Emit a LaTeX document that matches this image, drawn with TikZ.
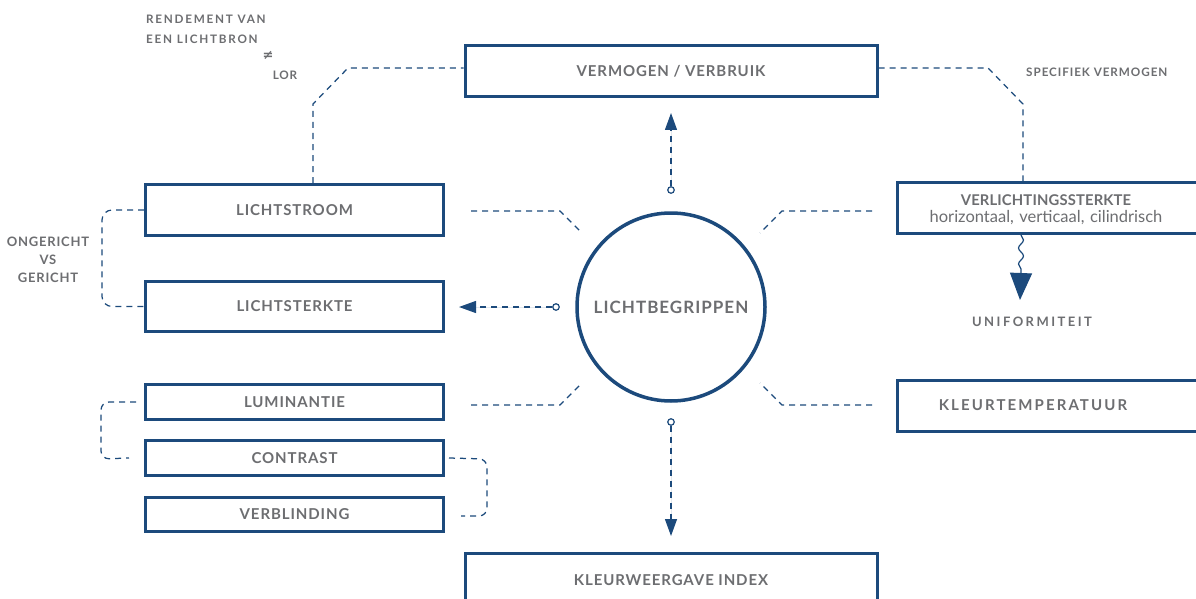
\documentclass[tikz,border=0pt]{standalone}
\usepackage{fontspec}
\setmainfont{Lato}
\newfontfamily\capsfont[LetterSpace=6]{Lato Bold}
\newfontfamily\lblfont[LetterSpace=6]{Lato Bold}
\newfontfamily\subfont{Lato}
\newfontfamily\symfont{DejaVu Sans}
\usetikzlibrary{arrows.meta,decorations.pathmorphing}
\definecolor{cblue}{RGB}{28,74,124}
\definecolor{cgrey}{RGB}{109,110,113}
\begin{document}
\begin{tikzpicture}[x=1pt,y=-1pt,
  box/.style={draw=cblue, line width=3pt, inner sep=0pt, text=cgrey,
    font=\capsfont\fontsize{15}{17}\selectfont},
  lbl/.style={inner sep=0pt, text=cgrey, font=\lblfont\fontsize{11.7}{20}\selectfont},
  lblb/.style={inner sep=0pt, text=cgrey, font=\lblfont\fontsize{13}{18}\selectfont},
  dsh/.style={draw=cblue, line width=1.25pt, dash pattern=on 6pt off 5pt},
  knob/.style={circle, draw=cblue, fill=white, line width=1.2pt, inner sep=0pt, minimum size=6.5pt},
  tipsmall/.style={-{Triangle[length=17pt,width=12pt]}},
  tipbig/.style={-{Triangle[length=27pt,width=22pt]}}
]
\fill[white] (0,0) rectangle (1196,599);
\clip (0,0) rectangle (1196,599);

% boxes
\node[box, minimum width=412pt, minimum height=51pt] (verm) at (671,71) {VERMOGEN / VERBRUIK};
\node[box, minimum width=298pt, minimum height=51pt] (lstroom) at (294.5,210) {LICHTSTROOM};
\node[box, minimum width=298pt, minimum height=50pt] (lsterkte) at (294.5,306.5) {LICHTSTERKTE};
\node[box, minimum width=298pt, minimum height=35pt] (lumin) at (294.5,402) {LUMINANTIE};
\node[box, minimum width=298pt, minimum height=35pt] (contrast) at (294.5,458) {CONTRAST};
\node[box, minimum width=298pt, minimum height=34pt] (verbl) at (294.5,514) {VERBLINDING};
\node[box, text width=303pt, align=center, minimum height=51pt,
  font=\subfont\fontsize{16.5}{16.5}\selectfont] (verlicht) at (1048.5,208)
  {\hspace*{-5pt}{\capsfont\addfontfeature{LetterSpace=1}\fontsize{14.8}{16.5}\selectfont\rule{0pt}{14pt}VERLICHTINGSSTERKTE}\\
   \hspace*{-5pt}horizontaal, verticaal, cilindrisch};
\node[box, minimum width=303pt, minimum height=51pt] (ktemp) at (1048.5,405.5)
  {\hspace*{-31pt}\addfontfeature{LetterSpace=14}KLEURTEMPERATUUR};
\node[box, minimum width=412pt, minimum height=54pt] (kwi) at (671,580) {KLEURWEERGAVE INDEX};

% central circle
\node[circle, draw=cblue, line width=3.5pt, minimum size=188pt, inner sep=0pt, text=cgrey,
  font=\capsfont\fontsize{17}{19}\selectfont] (core) at (671,307) {LICHTBEGRIPPEN};

% knobs and arrows
\node[knob] (ku) at (671,190) {};
\node[knob] (kl) at (556,307) {};
\node[knob] (kd) at (671,422) {};
\coordinate (au) at (671,113);
\coordinate (al) at (459,307);
\coordinate (ad) at (671,536);
\draw[dsh, tipsmall, fill=cblue] (ku) -- (au);
\draw[dsh, tipsmall, fill=cblue] (kl) -- (al);
\draw[dsh, tipsmall, fill=cblue] (kd) -- (ad);

% top connectors
\coordinate (tl1) at (313,104);
\coordinate (tl2) at (348,68);
\draw[dsh] (tl1 |- lstroom.north) -- (tl1) -- (tl2) -- (tl2 -| verm.west);
\coordinate (tr1) at (988,68);
\coordinate (tr2) at (1023,104);
\draw[dsh] (tr1 -| verm.east) -- (tr1) -- (tr2) -- (tr2 |- verlicht.north);

% brackets
\coordinate (og) at (102,0);
\draw[dsh, rounded corners=10pt] (lstroom.west) -- (og |- lstroom.west) -- (og |- lsterkte.west) -- (lsterkte.west);
\coordinate (lb1) at (101,401);
\coordinate (lb2) at (101,459);
\draw[dsh, rounded corners=8pt] ([xshift=-8pt]lumin.west) -- (lb1 |- lumin.west) -- (lb2) -- ([xshift=-15pt]contrast.west);
\coordinate (rb1) at (487,459);
\coordinate (rb2) at (487,516);
\draw[dsh, rounded corners=8pt] ([xshift=4pt]contrast.east) -- (rb1) -- (rb2) -- ([xshift=16pt]verbl.east |- rb2);

% spokes
\coordinate (s1a) at (471,211); \coordinate (s1b) at (560,211); \coordinate (s1c) at (582,233);
\coordinate (s2a) at (471,405); \coordinate (s2b) at (560,405); \coordinate (s2c) at (582,383);
\coordinate (s3a) at (872,211); \coordinate (s3b) at (782,211); \coordinate (s3c) at (760,233);
\coordinate (s4a) at (872,405); \coordinate (s4b) at (782,405); \coordinate (s4c) at (760,383);
\draw[dsh] (s1a) -- (s1b) -- (s1c);
\draw[dsh] (s2a) -- (s2b) -- (s2c);
\draw[dsh] (s3a) -- (s3b) -- (s3c);
\draw[dsh] (s4a) -- (s4b) -- (s4c);

% wavy arrow to uniformiteit
\coordinate (wv) at (1021,273);
\coordinate (wt) at (1020,300);
\draw[cblue, line width=1.2pt, decorate, decoration={snake, amplitude=2.5pt, segment length=16pt}] (wv |- verlicht.south) -- (wv);
\draw[cblue, line width=1.2pt, tipbig, fill=cblue] (wv) -- (wt);

% labels
\node[lbl, anchor=west, align=left, font=\lblfont\addfontfeature{LetterSpace=15}\fontsize{11.7}{20}\selectfont] (rend) at (146,29) {RENDEMENT VAN\\EEN LICHTBRON};
\node[inner sep=0pt, text=cgrey, font=\symfont\bfseries\fontsize{13}{13}\selectfont] (neq) at (268,55) {≠};
\node[lbl] (lor) at (285,75) {LOR};
\node[lbl, anchor=west, font=\lblfont\addfontfeature{LetterSpace=8}\fontsize{11.7}{20}\selectfont] (spec) at (1026,72) {SPECIFIEK VERMOGEN};
\node[lblb, align=center] (ong) at (48,260) {ONGERICHT\\VS\\GERICHT};
\node[lblb, font=\lblfont\addfontfeature{LetterSpace=19}\fontsize{13}{18}\selectfont] (unif) at (1032,322) {UNIFORMITEIT};
\end{tikzpicture}
\end{document}
